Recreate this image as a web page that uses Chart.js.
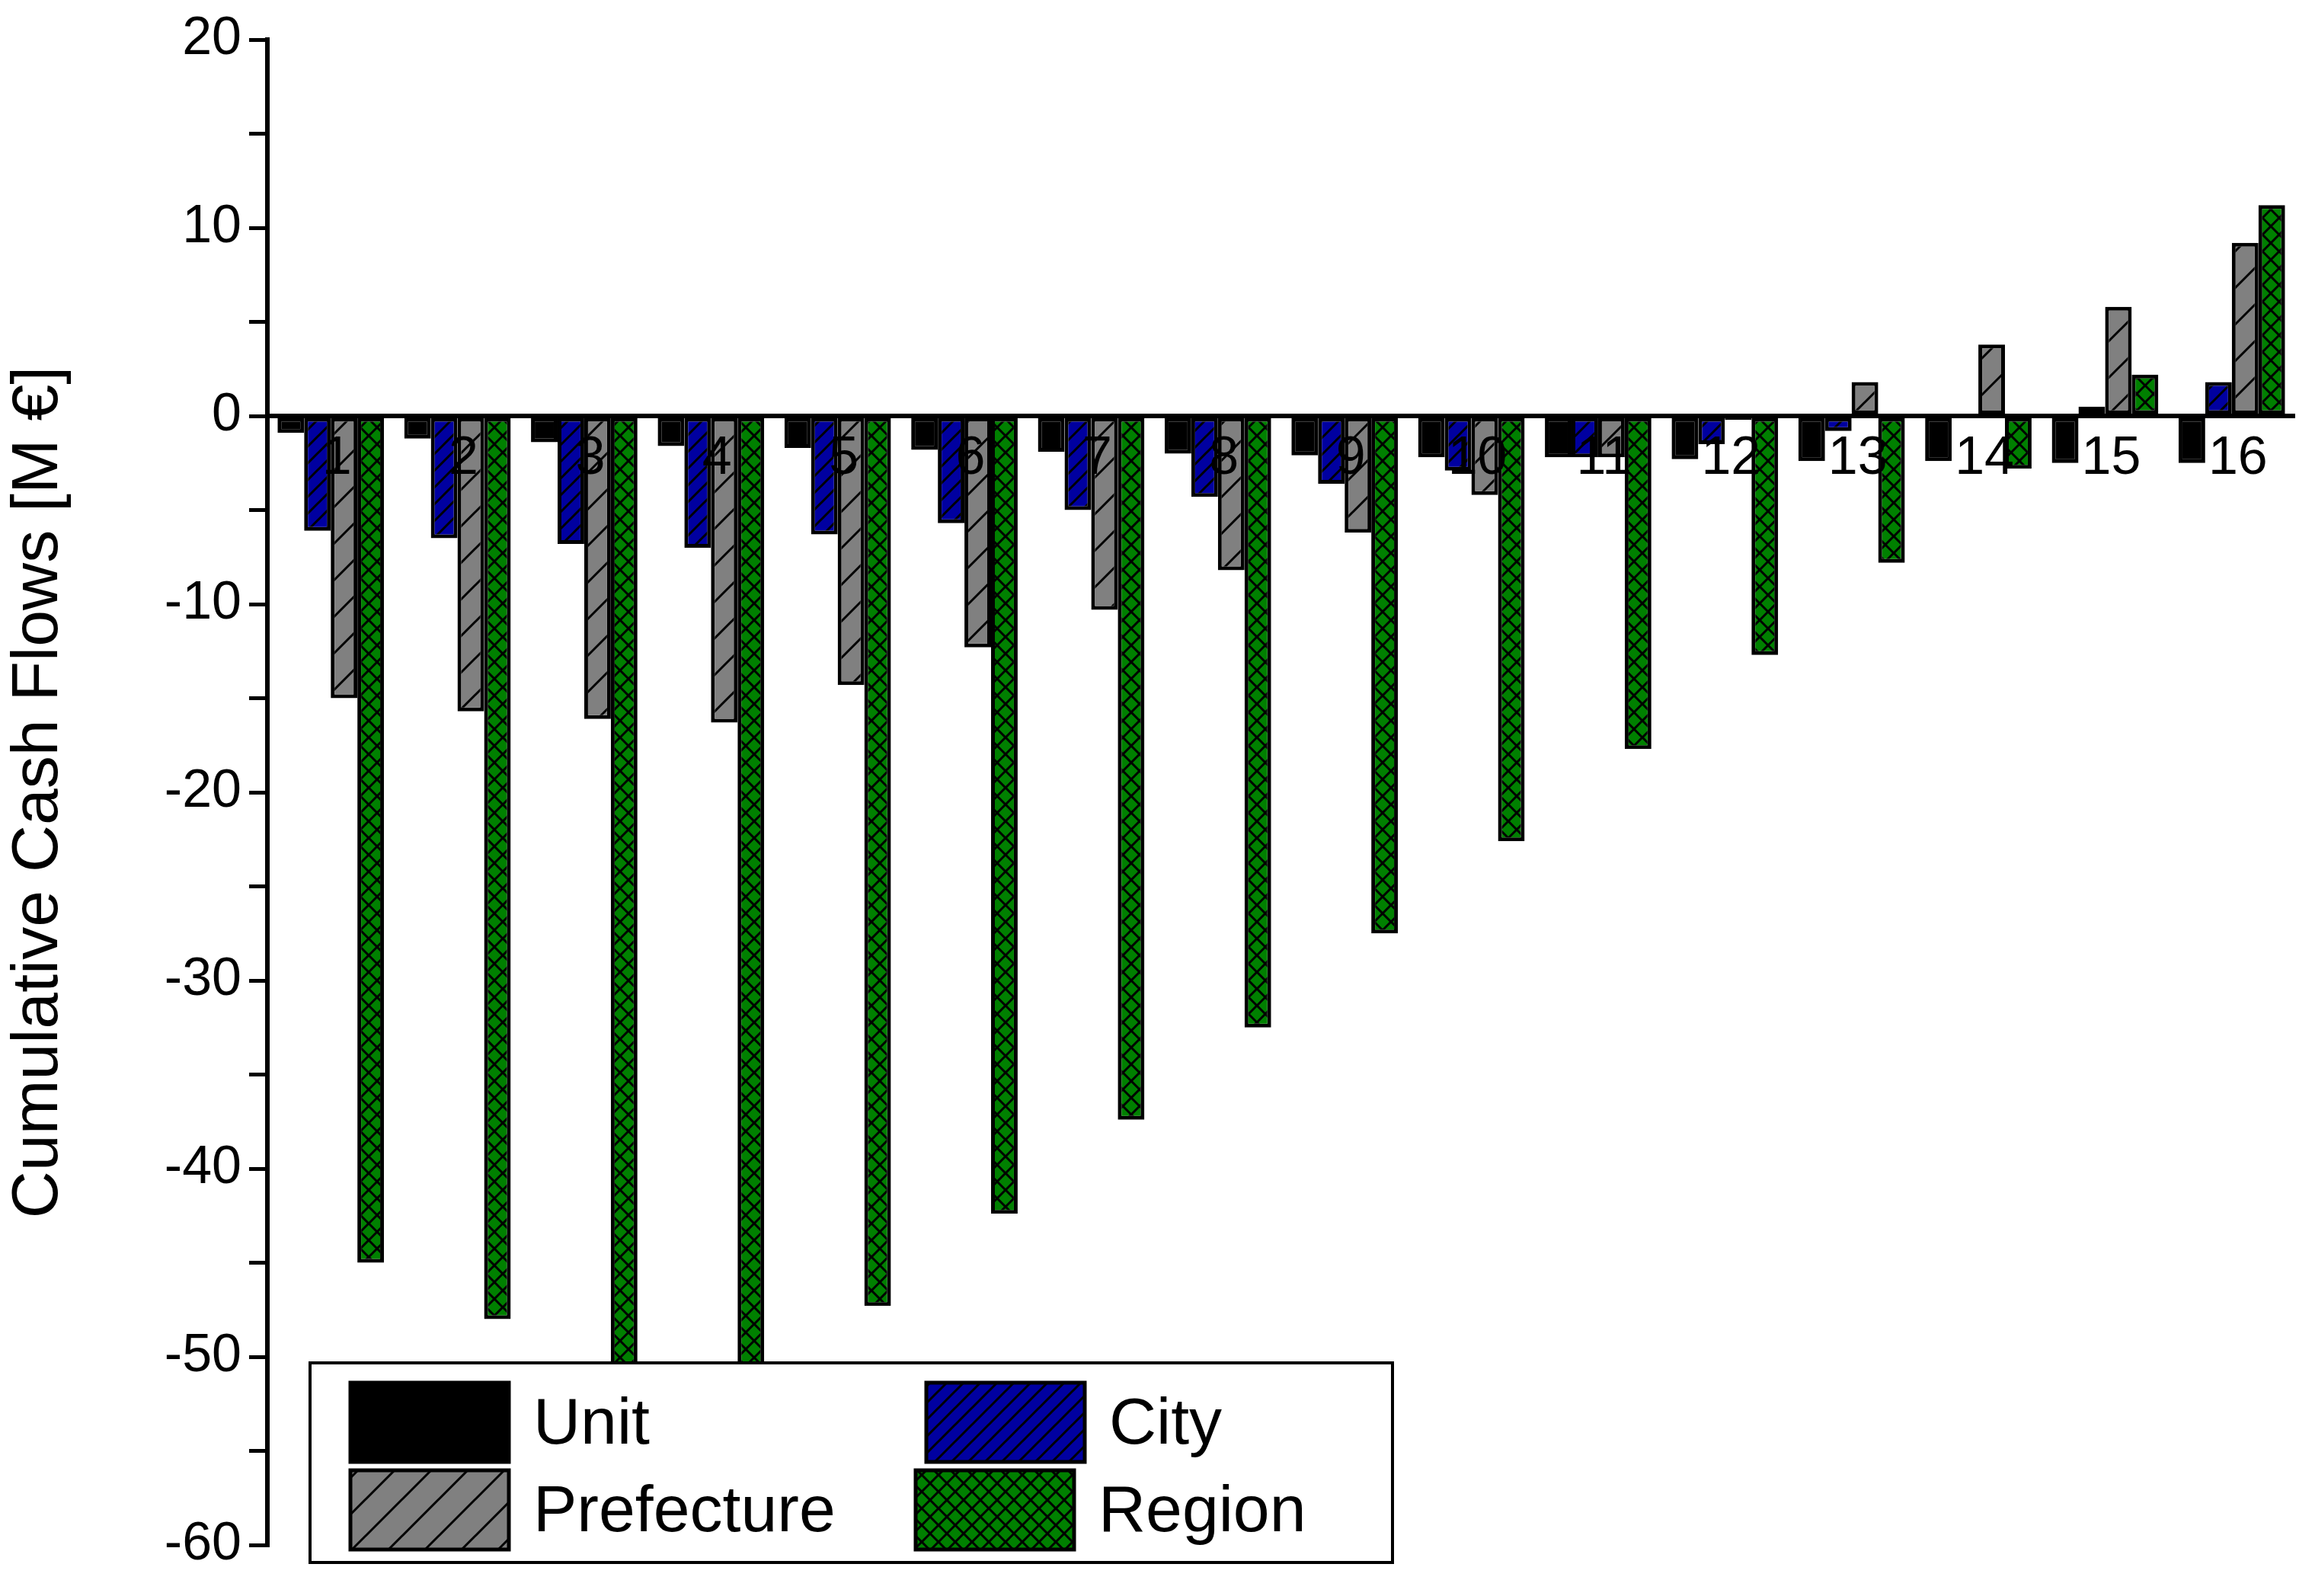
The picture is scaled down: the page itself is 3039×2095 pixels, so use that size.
<!DOCTYPE html>
<html>
<head>
<meta charset="utf-8">
<script src="https://cdn.jsdelivr.net/npm/chart.js@4/dist/chart.umd.min.js"></script>
<style>
  html, body { margin: 0; padding: 0; background: #fff; }
  #wrap { width: 3039px; height: 2095px; }
</style>
</head>
<body>
<div id="wrap"><canvas id="cashChart"></canvas></div>
<script>
// Data
const years = ['1','2','3','4','5','6','7','8','9','10','11','12','13','14','15','16'];
const unitFlows = [-0.9,-1.2,-1.4,-1.6,-1.7,-1.8,-1.9,-2.0,-2.1,-2.2,-2.2,-2.3,-2.4,-2.4,-2.5,-2.5];
const cityFlows = [-6.1,-6.5,-6.8,-7.0,-6.3,-5.7,-5.0,-4.3,-3.6,-2.9,-2.2,-1.5,-0.8,-0.1,0.5,1.8];
const prefectureFlows = [-15.0,-15.7,-16.1,-16.3,-14.3,-12.3,-10.3,-8.2,-6.2,-4.2,-2.2,-0.2,1.8,3.8,5.8,9.2];
const regionFlows = [-45.0,-48.0,-51.0,-52.0,-47.3,-42.4,-37.4,-32.5,-27.5,-22.6,-17.7,-12.7,-7.8,-2.8,2.2,11.2];
const yTickLabels = ['20','10','0','-10','-20','-30','-40','-50','-60'];

// Hatch patterns
function makePattern(bg, size, drawLines) {
    const c = document.createElement('canvas');
    c.width = size; c.height = size;
    const g = c.getContext('2d');
    g.fillStyle = bg;
    g.fillRect(0, 0, size, size);
    g.strokeStyle = '#000';
    g.lineWidth = 3;
    drawLines(g, size);
    return document.getElementById('cashChart').getContext('2d').createPattern(c, 'repeat');
}
function diag(g, s) {
    g.beginPath();
    g.moveTo(-s, 2 * s); g.lineTo(2 * s, -s);
    g.moveTo(0, s); g.lineTo(s, 0);
    g.moveTo(-s, s); g.lineTo(s, -s);
    g.moveTo(0, 2 * s); g.lineTo(2 * s, 0);
    g.stroke();
}
function cross(g, s) {
    diag(g, s);
    g.beginPath();
    g.moveTo(0, 0); g.lineTo(s, s);
    g.moveTo(-s, 0); g.lineTo(s, 2 * s);
    g.moveTo(0, -s); g.lineTo(2 * s, s);
    g.stroke();
}
const cityFill = makePattern('#0000a0', 22, diag);
const prefFill = makePattern('#808080', 48, diag);
const regionFill = makePattern('#008000', 22, cross);

// Category labels along the zero line and the legend box
const overlayPlugin = {
    id: 'overlay',
    afterDatasetsDraw(chart) {
        const { ctx, scales: { x, y } } = chart;
        const zero = y.getPixelForValue(0);
        ctx.save();
        ctx.fillStyle = '#000';
        ctx.font = '70px Arial, "Liberation Sans", sans-serif';
        ctx.textAlign = 'center';
        ctx.textBaseline = 'top';
        years.forEach((label, i) => {
            ctx.fillText(label, x.getPixelForValue(i) + 8, zero + 22);
        });

        // legend
        const lx = 407, ly = 1789, lw = 1421, lh = 262;
        ctx.fillStyle = '#fff';
        ctx.fillRect(lx, ly, lw, lh);
        ctx.strokeStyle = '#000';
        ctx.lineWidth = 4;
        ctx.strokeRect(lx, ly, lw, lh);
        const items = [
            ['Unit', '#000', 460, 1815, 700],
            ['City', cityFill, 1216, 1815, 1456],
            ['Prefecture', prefFill, 460, 1930, 700],
            ['Region', regionFill, 1202, 1930, 1442]
        ];
        ctx.font = '86px Arial, "Liberation Sans", sans-serif';
        ctx.textAlign = 'left';
        ctx.textBaseline = 'middle';
        items.forEach(([name, fill, sx, sy, tx]) => {
            ctx.fillStyle = fill;
            ctx.fillRect(sx, sy, 208, 104);
            ctx.lineWidth = 5;
            ctx.strokeRect(sx, sy, 208, 104);
            ctx.fillStyle = '#000';
            ctx.fillText(name, tx, sy + 56);
        });
        ctx.restore();
    }
};

const zeroLinePlugin = {
    id: 'zeroLine',
    beforeDatasetsDraw(chart) {
        const { ctx, chartArea, scales: { y } } = chart;
        const zero = y.getPixelForValue(0);
        ctx.save();
        ctx.strokeStyle = '#000';
        ctx.lineWidth = 6;
        ctx.beginPath();
        ctx.moveTo(chartArea.left, zero);
        ctx.lineTo(chartArea.right, zero);
        ctx.stroke();
        ctx.restore();
    }
};

function barSet(label, data, fill) {
    return {
        label: label,
        data: data,
        backgroundColor: fill,
        borderColor: '#000',
        borderWidth: 5,
        borderSkipped: false,
        barPercentage: 1.0,
        categoryPercentage: 0.84
    };
}

new Chart(document.getElementById('cashChart'), {
    type: 'bar',
    data: {
        labels: years,
        datasets: [
            barSet('Unit', unitFlows, '#000'),
            barSet('City', cityFlows, cityFill),
            barSet('Prefecture', prefectureFlows, prefFill),
            barSet('Region', regionFlows, regionFill)
        ]
    },
    options: {
        responsive: true,
        maintainAspectRatio: false,
        animation: false,
        layout: { padding: { top: 30, right: 26, bottom: 67, left: 0 } },
        plugins: { legend: { display: false }, tooltip: { enabled: false } },
        scales: {
            x: { display: false },
            y: {
                min: -60,
                max: 20,
                afterFit: s => { s.width = 351; },
                border: { display: true, color: '#000', width: 6 },
                grid: { drawOnChartArea: false, color: '#000', lineWidth: 5, tickLength: 24 },
                ticks: {
                    stepSize: 5,
                    color: '#000',
                    padding: 10,
                    font: { size: 70, family: 'Arial, "Liberation Sans", sans-serif' },
                    callback: v => (v % 10 === 0 ? yTickLabels[(20 - v) / 10] : '')
                },
                title: {
                    display: true,
                    text: 'Cumulative Cash Flows [M €]',
                    color: '#000',
                    padding: 0,
                    font: { size: 86, family: 'Arial, "Liberation Sans", sans-serif' }
                }
            }
        }
    },
    plugins: [zeroLinePlugin, overlayPlugin]
});
</script>
</body>
</html>
